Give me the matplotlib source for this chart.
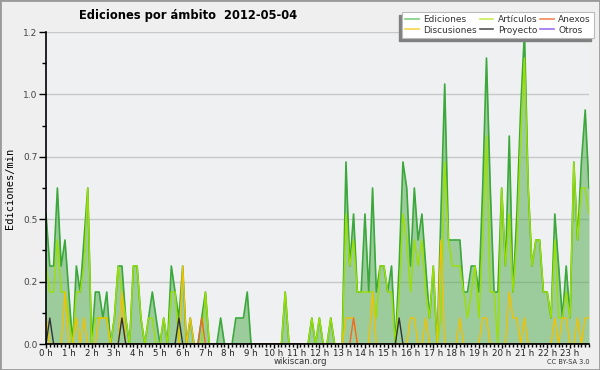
import numpy as np
import matplotlib.pyplot as plt
from matplotlib.lines import Line2D
from matplotlib.patches import Rectangle

# edits/min, one value per 10 minutes (00:00 ... 23:50), 12 values per row = 2 hours
ediciones = [
    0.5, 0.3, 0.3, 0.6, 0.3, 0.4, 0.2, 0.0, 0.3, 0.2, 0.4, 0.6,
    0.0, 0.2, 0.2, 0.1, 0.2, 0.0, 0.1, 0.3, 0.3, 0.1, 0.0, 0.3,
    0.3, 0.1, 0.0, 0.1, 0.2, 0.1, 0.0, 0.1, 0.0, 0.3, 0.2, 0.1,
    0.3, 0.0, 0.1, 0.0, 0.0, 0.1, 0.2, 0.0, 0.0, 0.0, 0.1, 0.0,
    0.0, 0.0, 0.1, 0.1, 0.1, 0.2, 0.0, 0.0, 0.0, 0.0, 0.0, 0.0,
    0.0, 0.0, 0.0, 0.2, 0.0, 0.0, 0.0, 0.0, 0.0, 0.0, 0.1, 0.0,
    0.1, 0.0, 0.0, 0.1, 0.0, 0.0, 0.0, 0.7, 0.3, 0.5, 0.2, 0.2,
    0.5, 0.2, 0.6, 0.2, 0.3, 0.3, 0.2, 0.3, 0.0, 0.3, 0.7, 0.6,
    0.3, 0.6, 0.4, 0.5, 0.3, 0.1, 0.3, 0.0, 0.5, 1.0, 0.4, 0.4,
    0.4, 0.4, 0.2, 0.2, 0.3, 0.3, 0.2, 0.6, 1.1, 0.6, 0.2, 0.2,
    0.6, 0.3, 0.8, 0.2, 0.5, 0.9, 1.2, 0.6, 0.3, 0.4, 0.4, 0.2,
    0.2, 0.1, 0.5, 0.3, 0.1, 0.3, 0.1, 0.7, 0.4, 0.7, 0.9, 0.6,
]
articulos = [
    0.3, 0.2, 0.2, 0.4, 0.2, 0.2, 0.1, 0.0, 0.2, 0.2, 0.3, 0.6,
    0.0, 0.1, 0.1, 0.1, 0.1, 0.0, 0.1, 0.3, 0.2, 0.1, 0.0, 0.3,
    0.3, 0.1, 0.0, 0.1, 0.1, 0.0, 0.0, 0.1, 0.0, 0.2, 0.2, 0.0,
    0.0, 0.0, 0.0, 0.0, 0.0, 0.0, 0.2, 0.0, 0.0, 0.0, 0.0, 0.0,
    0.0, 0.0, 0.0, 0.0, 0.0, 0.0, 0.0, 0.0, 0.0, 0.0, 0.0, 0.0,
    0.0, 0.0, 0.0, 0.2, 0.0, 0.0, 0.0, 0.0, 0.0, 0.0, 0.1, 0.0,
    0.1, 0.0, 0.0, 0.1, 0.0, 0.0, 0.0, 0.5, 0.3, 0.4, 0.2, 0.2,
    0.2, 0.2, 0.2, 0.1, 0.3, 0.3, 0.2, 0.2, 0.0, 0.2, 0.5, 0.4,
    0.2, 0.4, 0.3, 0.4, 0.2, 0.1, 0.3, 0.0, 0.1, 0.7, 0.4, 0.3,
    0.3, 0.3, 0.2, 0.1, 0.2, 0.3, 0.1, 0.4, 0.8, 0.2, 0.2, 0.0,
    0.6, 0.3, 0.5, 0.2, 0.4, 0.8, 1.1, 0.6, 0.3, 0.4, 0.4, 0.2,
    0.2, 0.1, 0.4, 0.1, 0.1, 0.2, 0.1, 0.7, 0.4, 0.6, 0.6, 0.5,
]
discusiones = [
    0.1, 0.0, 0.0, 0.0, 0.0, 0.2, 0.0, 0.0, 0.1, 0.0, 0.1, 0.0,
    0.0, 0.0, 0.1, 0.1, 0.1, 0.0, 0.0, 0.0, 0.2, 0.0, 0.0, 0.0,
    0.0, 0.0, 0.0, 0.0, 0.0, 0.0, 0.0, 0.0, 0.0, 0.0, 0.0, 0.0,
    0.3, 0.0, 0.1, 0.0, 0.0, 0.0, 0.0, 0.0, 0.0, 0.0, 0.0, 0.0,
    0.0, 0.0, 0.0, 0.0, 0.0, 0.0, 0.0, 0.0, 0.0, 0.0, 0.0, 0.0,
    0.0, 0.0, 0.0, 0.0, 0.0, 0.0, 0.0, 0.0, 0.0, 0.0, 0.0, 0.0,
    0.0, 0.0, 0.0, 0.0, 0.0, 0.0, 0.0, 0.1, 0.1, 0.1, 0.0, 0.0,
    0.0, 0.0, 0.2, 0.0, 0.0, 0.0, 0.0, 0.0, 0.0, 0.0, 0.0, 0.0,
    0.1, 0.1, 0.0, 0.0, 0.1, 0.0, 0.0, 0.0, 0.4, 0.0, 0.0, 0.0,
    0.0, 0.1, 0.0, 0.0, 0.0, 0.0, 0.0, 0.1, 0.1, 0.0, 0.0, 0.0,
    0.0, 0.0, 0.2, 0.1, 0.1, 0.0, 0.1, 0.0, 0.0, 0.0, 0.0, 0.0,
    0.0, 0.0, 0.1, 0.0, 0.1, 0.1, 0.0, 0.0, 0.1, 0.0, 0.1, 0.1,
]
proyecto = [0.0] * 144
for i in (1, 20, 35, 93):
    proyecto[i] = 0.1
anexos = [0.0] * 144
for i in (41, 81):
    anexos[i] = 0.1
otros = [0.0] * 144

hour_labels = ["%d h" % h for h in range(24)]

c_ed = '#3aa83a'
c_art = '#9be000'
c_dis = '#f2c200'
c_pro = '#333333'
c_anx = '#ee6a2a'
c_otr = '#9a4ee8'

fig = plt.figure(figsize=(6, 3.7), dpi=100, facecolor='#efefef')
ax = fig.add_axes([46 / 600, 26 / 370, 543 / 600, 312 / 370])
ax.set_facecolor('#eff0f2')

x = np.arange(len(ediciones))
ax.fill_between(x, 0, ediciones, color='#4ba848', alpha=0.5, lw=0, zorder=2)
ax.plot(x, ediciones, color=c_ed, lw=1.2, zorder=3)
ax.plot(x, articulos, color=c_art, lw=1.0, zorder=4)
ax.plot(x, discusiones, color=c_dis, lw=1.0, zorder=5)
ax.plot(x, anexos, color=c_anx, lw=1.0, zorder=5)
ax.plot(x, proyecto, color=c_pro, lw=1.0, zorder=6)
ax.plot(x, otros, color=c_otr, lw=1.0, zorder=1)

ax.set_xlim(0, 143)
ax.set_ylim(0, 1.2)
ax.set_yticks(np.arange(0, 1.21, 0.24))
ax.set_yticklabels(["%.1f" % v for v in np.arange(0, 1.21, 0.24)])
ax.set_yticks(np.arange(0.12, 1.2, 0.24), minor=True)
ax.set_xticks(np.arange(0, 144, 6))
ax.set_xticklabels(hour_labels)
ax.set_xticks(np.arange(0, 144, 1), minor=True)
ax.grid(axis='y', which='major', color='#c8c8c8', lw=1)
ax.set_axisbelow(True)
for s in ('top', 'right'):
    ax.spines[s].set_visible(False)
for s in ('left', 'bottom'):
    ax.spines[s].set_color('black')
    ax.spines[s].set_linewidth(1.2)
    ax.spines[s].set_zorder(10)
ax.tick_params(axis='y', which='major', length=5, width=1, labelsize=6.5, labelcolor='#444444', pad=1)
ax.tick_params(axis='y', which='minor', length=3, width=1)
ax.tick_params(axis='x', which='major', length=3, width=1, labelsize=6.2, labelcolor='#222222', pad=0.5)
ax.tick_params(axis='x', which='minor', length=2.5, width=1)
ax.set_ylabel('Ediciones/min', family='DejaVu Sans Mono', fontsize=7.5, labelpad=6)

fig.text(188 / 600, 1 - 16 / 370, 'Ediciones por ámbito  2012-05-04', ha='center', va='center',
         fontsize=8.3, fontweight='bold')
fig.text(300 / 600, 1 - 362 / 370, 'wikiscan.org', ha='center', va='center', fontsize=6.2, color='#333333')
fig.text(590 / 600, 1 - 362 / 370, 'CC BY-SA 3.0', ha='right', va='center', fontsize=4.8, color='#333333')

labels = ['Ediciones', 'Discusiones', 'Artículos', 'Proyecto', 'Anexos', 'Otros']
colors = ['#7fcf7f', '#f7d54a', '#c8ec55', '#555555', '#f08858', '#a070ee']
handles = [Line2D([], [], color=c, lw=1.2) for c in colors]
leg = fig.legend(handles, labels, ncol=3, loc='upper right', bbox_to_anchor=(594 / 600, 1 - 12 / 370),
                 prop={'size': 6.5}, frameon=True, fancybox=False, edgecolor='#bbbbbb', framealpha=1,
                 handlelength=1.5, handletextpad=0.5, columnspacing=0.3, labelspacing=0.15,
                 borderpad=0.35, borderaxespad=0)
leg.get_frame().set_linewidth(0.8)
for t in leg.get_texts():
    t.set_color('#333333')
fig.canvas.draw()
bb = leg.get_window_extent()
fig.add_artist(Rectangle(((bb.x0 - 3) / 600, (bb.y0 - 3) / 370), bb.width / 600, bb.height / 370,
                         transform=fig.transFigure, color='#808080', zorder=4))
fig.add_artist(Rectangle((0, 0), 1, 1, transform=fig.transFigure, fill=False,
                         edgecolor='#9a9a9a', lw=2, zorder=20))

fig.savefig('out.png', dpi=100, facecolor=fig.get_facecolor())
